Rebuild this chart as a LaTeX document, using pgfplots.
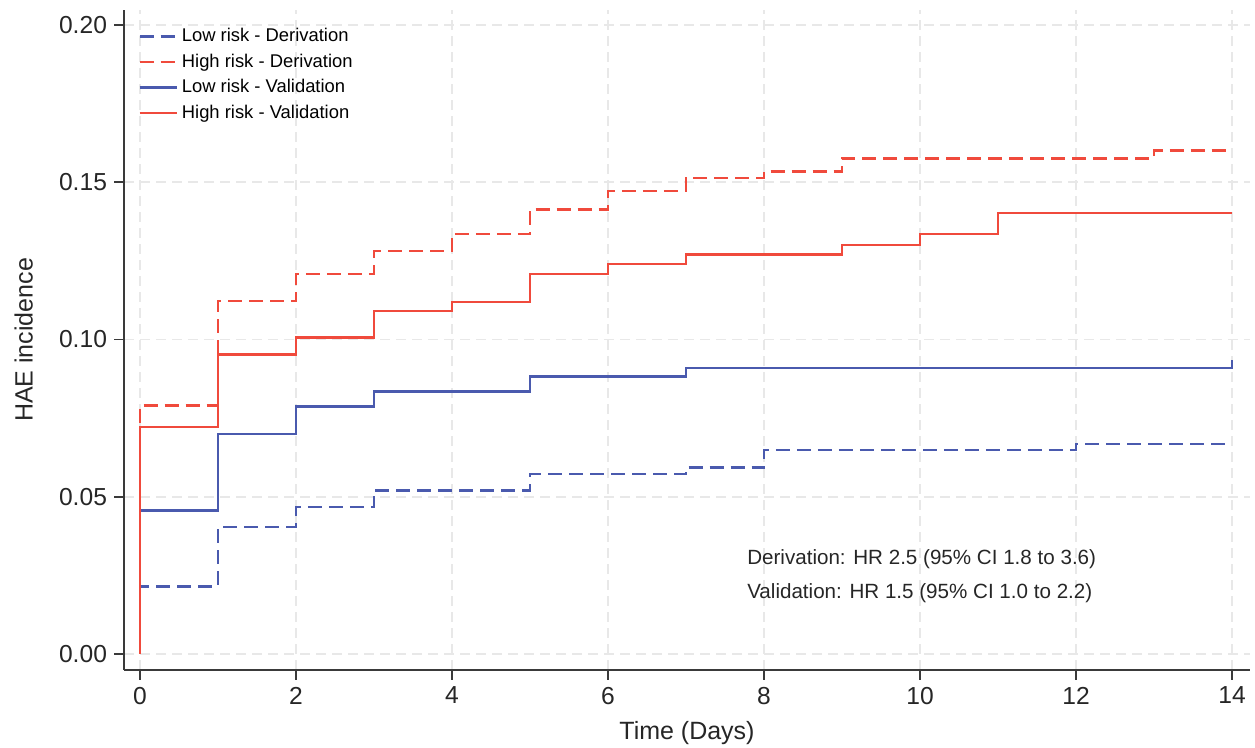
\documentclass[border=0pt]{standalone}
\usepackage{pgfplots}
\pgfplotsset{compat=1.18}
\usepackage{fontspec}
\setmainfont{Liberation Sans}
\definecolor{kmblue}{HTML}{4A5AAE}
\definecolor{kmred}{HTML}{F04A3C}
\definecolor{axisgray}{HTML}{3A3A3A}
\definecolor{gridgray}{HTML}{E8E8E8}
\begin{document}
\begin{tikzpicture}
\begin{axis}[
  scale only axis,
  width=563pt, height=330pt,
  at={(0,0)}, anchor=south west,
  xmin=-0.205, xmax=14.23,
  ymin=-0.0051, ymax=0.2048,
  axis x line*=bottom, axis y line*=left,
  axis line style={axisgray, line width=1pt, -},
  xtick={0,2,...,14},
  ytick={0,0.05,0.10,0.15,0.20},
  yticklabel style={/pgf/number format/fixed, /pgf/number format/fixed zerofill, /pgf/number format/precision=2},
  /pgf/number format/assume math mode=true,
  tick align=outside,
  major tick length=5pt,
  tick style={axisgray, line width=0.9pt},
  ticklabel style={font=\fontsize{12.3}{14}\selectfont, text=black!85},
  grid=major,
  major grid style={gridgray, line width=0.9pt, dash pattern=on 5pt off 3pt},
  xlabel={Time (Days)},
  ylabel={HAE incidence},
  label style={font=\fontsize{12.5}{14}\selectfont, text=black!85},
  xlabel style={at={(axis description cs:0.5,-0.0955)}, anchor=center},
  ylabel style={at={(axis description cs:-0.089,0.5)}, anchor=center},
  legend style={at={(0,1)}, anchor=north west, xshift=4pt, yshift=-5pt,
    draw=none, fill=none, font=\fontsize{9.2}{10}\selectfont,
    row sep=0.6pt, cells={anchor=west}},
  legend image code/.code={\draw[#1] (0pt,0pt) -- (18.5pt,0pt);},
  clip=false,
]
\addplot[const plot, kmblue, line width=1.25pt, dash pattern=on 7pt off 3.5pt] coordinates {
 (0,0) (0,0.0215) (1,0.0403) (2,0.0468) (3,0.0520) (5,0.0572) (7,0.0593) (8,0.0649) (12,0.0667) (14,0.0667)};
\addlegendentry{Low risk - Derivation}
\addplot[const plot, kmred, line width=1.25pt, dash pattern=on 7pt off 3.5pt] coordinates {
 (0,0) (0,0.0790) (1,0.1122) (2,0.1209) (3,0.1281) (4,0.1336) (5,0.1413) (6,0.1473) (7,0.1513) (8,0.1534) (9,0.1576) (13,0.1601) (14,0.1601)};
\addlegendentry{High risk - Derivation}
\addplot[const plot, kmblue, line width=1.25pt] coordinates {
 (0,0) (0,0.0456) (1,0.0699) (2,0.0787) (3,0.0834) (5,0.0883) (7,0.0910) (14,0.0910) (14,0.0936)};
\addlegendentry{Low risk - Validation}
\addplot[const plot, kmred, line width=1.25pt] coordinates {
 (0,0) (0,0.0722) (1,0.0953) (2,0.1006) (3,0.1090) (4,0.1119) (5,0.1209) (6,0.1240) (7,0.1271) (9,0.1301) (10,0.1335) (11,0.1402) (14,0.1402)};
\addlegendentry{High risk - Validation}
\node[anchor=west, font=\fontsize{10.3}{12}\selectfont, text=black!85, inner sep=0pt] at (axis cs:7.78,0.0302) {Derivation: HR 2.5 (95\% CI 1.8 to 3.6)};
\node[anchor=west, font=\fontsize{10.3}{12}\selectfont, text=black!85, inner sep=0pt] at (axis cs:7.78,0.0194) {Validation: HR 1.5 (95\% CI 1.0 to 2.2)};
\end{axis}
\pgfresetboundingbox
\path[use as bounding box] (-62pt,-39pt) rectangle (565.5pt,335pt);
\end{tikzpicture}
\end{document}
